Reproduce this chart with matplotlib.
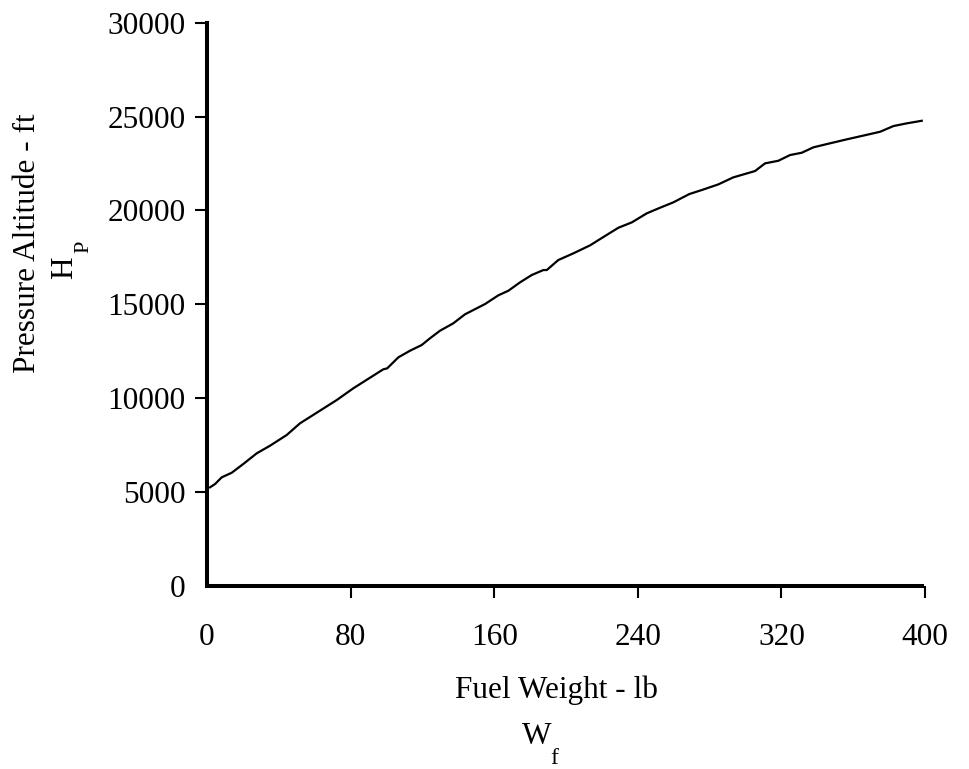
import matplotlib
matplotlib.use("Agg")
import matplotlib.pyplot as plt

plt.rcParams['font.family'] = ['Liberation Serif', 'DejaVu Serif']

# Data
fuel_weight = [1.7, 4.5, 8.2, 13.8, 20.2, 27.7, 35.1, 44.4, 51.8, 62.0, 72.3, 81.5,
               90.8, 98.2, 100.4, 106.6, 113.1, 119.6, 124.2, 129.8, 137.2, 143.7,
               154.9, 162.3, 167.9, 174.4, 180.9, 187.4, 189.3, 195.7, 204.1, 213.4,
               221.7, 229.2, 236.7, 245.0, 252.4, 259.8, 268.7, 275.6, 284.9, 293.2,
               305.3, 310.9, 318.3, 324.8, 331.3, 337.8, 345.3, 356.4, 369.4, 375.0,
               382.4, 389.8, 398.2]
altitude = [5256, 5432, 5788, 6033, 6497, 7066, 7471, 8041, 8664, 9281, 9905, 10528,
            11092, 11539, 11593, 12178, 12530, 12833, 13190, 13595, 13989, 14468,
            15017, 15480, 15725, 16172, 16561, 16827, 16827, 17360, 17716, 18142,
            18638, 19080, 19367, 19847, 20145, 20432, 20874, 21087, 21390, 21763,
            22099, 22509, 22647, 22951, 23073, 23361, 23536, 23787, 24069, 24192,
            24495, 24639, 24777]

x_ticks = [0, 80, 160, 240, 320, 400]
y_ticks = [0, 5000, 10000, 15000, 20000, 25000, 30000]

W, H = 969, 769
fig = plt.figure(figsize=(W / 100, H / 100), dpi=100)
left, right, bottom, top = 207, 925, 586, 22.7
ax = fig.add_axes([left / W, 1 - bottom / H, (right - left) / W, (bottom - top) / H])

ax.plot(fuel_weight, altitude, color='black', lw=1.6)

ax.set_xlim(0, 400)
ax.set_ylim(0, 30000)
ax.set_xticks(x_ticks)
ax.set_xticklabels([str(v) for v in x_ticks])
ax.set_yticks(y_ticks)
ax.set_yticklabels([str(v) for v in y_ticks])

for s in ['top', 'right']:
    ax.spines[s].set_visible(False)
for s in ['left', 'bottom']:
    ax.spines[s].set_linewidth(2.9)
    ax.spines[s].set_capstyle('projecting')
ax.spines['bottom'].set_bounds(0, 398.5)

FS = 22.5
ax.tick_params(axis='both', direction='out', length=8.5, width=1.5, labelsize=FS, color='black')
ax.tick_params(axis='x', pad=18)
ax.tick_params(axis='y', pad=7)
ax.xaxis.get_major_ticks()[0].tick1line.set_visible(False)
ax.yaxis.get_major_ticks()[0].tick1line.set_visible(False)

def px(x, y):
    return x / W, 1 - y / H

# y-axis label: "Pressure Altitude - ft" with H_P beneath it
fig.text(*px(35, 243), 'Pressure Altitude - ft', rotation=90, rotation_mode='anchor',
         fontsize=FS, ha='center', va='baseline')
fig.text(*px(72, 279), 'H', rotation=90, rotation_mode='anchor',
         fontsize=FS, ha='left', va='baseline')
fig.text(*px(88, 253), 'P', rotation=90, rotation_mode='anchor',
         fontsize=16, ha='left', va='baseline')

# x-axis label: "Fuel Weight - lb" with W_f beneath it
fig.text(*px(556, 698), 'Fuel Weight - lb', fontsize=FS, ha='center', va='baseline')
fig.text(*px(522, 744), 'W', fontsize=FS, ha='left', va='baseline')
fig.text(*px(550, 764), 'f', fontsize=17, ha='left', va='baseline')

fig.savefig('out.png', dpi=100, facecolor='white')
